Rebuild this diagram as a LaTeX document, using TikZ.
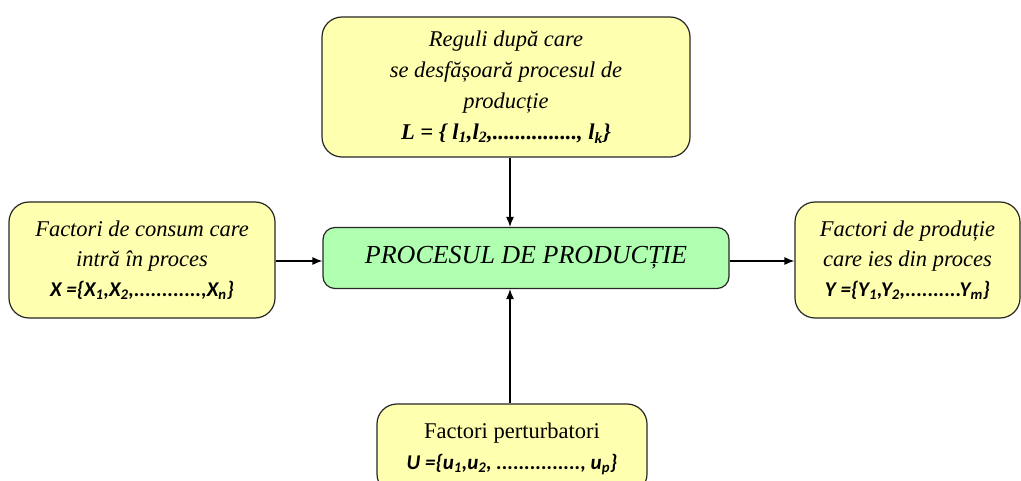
\documentclass[tikz,border=0pt]{standalone}
\usepackage{fontspec}
\setmainfont{Liberation Serif}
\newfontfamily\calib{Carlito}
\usepackage{tikz}
\usetikzlibrary{arrows.meta}

\definecolor{boxyellow}{RGB}{255,255,176}
\definecolor{boxgreen}{RGB}{176,255,176}

\newcommand{\ix}[1]{\textsubscript{#1}}

\tikzset{
	factor/.style={draw=black!85, line width=1.2pt, fill=boxyellow, rounded corners=20pt, align=center, inner sep=0pt},
	proces/.style={draw=black!85, line width=1.2pt, fill=boxgreen, rounded corners=12pt, align=center, inner sep=0pt},
	flux/.style={line width=1.2pt, -{Latex[length=10pt,width=8pt]}}
}

\begin{document}
\begin{tikzpicture}[x=1pt,y=1pt]
	\useasboundingbox (0,0) rectangle (1021,-481);
	
	% blocul central
	\node[proces, minimum width=406pt, minimum height=61pt, font=\fontsize{26}{30}\selectfont\itshape] (proc) at (526,-258)
		{PROCESUL DE PRODUCȚIE};
	
	% regulile, sus
	\node[factor, minimum width=368pt, minimum height=140pt, font=\fontsize{22.5}{31}\selectfont\itshape] (reg) at (506,-87)
		{Reguli după care\\
		 se desfășoară procesul de\\
		 producție\\
		 {\bfseries L = \{ l\ix{1},l\ix{2},..............., l\ix{k}\}}};
	
	% intrari si iesiri
	\node[factor, minimum width=266pt, minimum height=116pt, font=\fontsize{22.5}{30}\selectfont\itshape] (intr) at (142,-260)
		{Factori de consum care\\
		 intră în proces\\
		 {\calib\bfseries\fontsize{21}{30}\selectfont X =\{X\ix{1},X\ix{2},............,X\ix{n}\}}};
	\node[factor, minimum width=225pt, minimum height=116pt, font=\fontsize{22.5}{30}\selectfont\itshape] (ies) at (907.5,-260)
		{Factori de produție\\
		 care ies din proces\\
		 {\calib\bfseries\fontsize{21}{30}\selectfont Y =\{Y\ix{1},Y\ix{2},..........Y\ix{m}\}}};
	
	% perturbatii, jos
	\node[factor, minimum width=270pt, minimum height=90pt, font=\fontsize{22.5}{31}\selectfont] (pert) at (512,-449)
		{Factori perturbatori\\
		 {\calib\bfseries\itshape\fontsize{21}{31}\selectfont U =\{u\ix{1},u\ix{2}, ..............., u\ix{p}\}}};
	
	% sagetile
	\draw[flux] (reg.south -| 510,0) -- (proc.north -| 510,0);
	\draw[flux] (pert.north -| 510,0) -- (proc.south -| 510,0);
	\draw[flux] (intr.east |- 0,-261) -- (proc.west |- 0,-261);
	\draw[flux] (proc.east |- 0,-261) -- (ies.west |- 0,-261);
\end{tikzpicture}
\end{document}
